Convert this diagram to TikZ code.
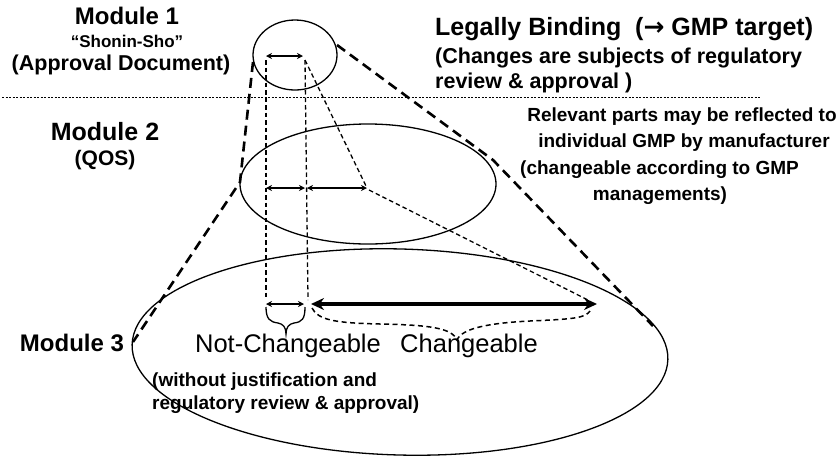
\documentclass[tikz,border=0pt]{standalone}
\usepackage{fontspec}
\setmainfont{Liberation Sans}
\newfontfamily\symfont{DejaVu Sans}
\usetikzlibrary{arrows.meta}
\begin{document}
\begin{tikzpicture}[x=1pt,y=-1pt,
  bt/.style={inner sep=0pt, font=\bfseries\fontsize{#1}{#1}\selectfont},
  rt/.style={inner sep=0pt, font=\fontsize{#1}{#1}\selectfont},
  ell/.style={line width=1.3pt},
  bigdash/.style={line width=2.6pt, dash pattern=on 10pt off 6pt},
  thindash/.style={line width=1.3pt, dash pattern=on 4.5pt off 3pt},
  dotline/.style={line width=1pt, dash pattern=on 2.2pt off 1.3pt},
  dimarrow/.style={line width=1.5pt, {Stealth[length=6pt,width=6pt]}-{Stealth[length=6pt,width=6pt]}},
  bigarrow/.style={line width=4pt, {Stealth[length=13pt,width=12pt]}-{Stealth[length=13pt,width=12pt]}},
  bracepath/.style={line width=1.3pt},
  dashbrace/.style={line width=1.5pt, dash pattern=on 5pt off 3.5pt}]
\useasboundingbox (0,0) rectangle (840,467);

% ellipses
\coordinate (c1) at (295,55);
\coordinate (c2) at (368,184);
\coordinate (c3) at (400,352);
\draw[ell] (c1) ellipse [x radius=42, y radius=35];
\draw[ell] (c2) ellipse [x radius=128, y radius=60];
\draw[ell, rotate around={-1.6:(c3)}] (c3) ellipse [x radius=268, y radius=103];

% dotted separator
\coordinate (s1) at (2,97);
\coordinate (s2) at (760,97);
\draw[dotline] (s1) -- (s2);

% thick dashed tangent lines
\coordinate (l1) at (253,62);
\coordinate (l2) at (240,182);
\coordinate (l3) at (133,342);
\coordinate (r1) at (337,45);
\coordinate (r2) at (493,160);
\coordinate (r3) at (653,326);
\draw[bigdash] (l1) -- (l2) -- (l3);
\draw[bigdash] (r1) -- (r2) -- (r3);

% arrow end points
\coordinate (a1l) at (266,56);
\coordinate (a1r) at (303,56);
\coordinate (a2l) at (266,188);
\coordinate (a2m) at (305,188);
\coordinate (a2n) at (307,188);
\coordinate (a2r) at (367,188);
\coordinate (a3l) at (266,304);
\coordinate (a3m) at (304,304);
\coordinate (a3n) at (311,304);
\coordinate (a3r) at (597,304);

% thin dashed projection lines
\coordinate (v1t) at (266,60);
\coordinate (v1b) at (266,300);
\coordinate (v2t) at (305,60);
\coordinate (v2b) at (308,300);
\coordinate (d1t) at (305,60);
\coordinate (d1b) at (366,186);
\coordinate (d2t) at (369,190);
\coordinate (d2b) at (590,301);
\draw[thindash] (v1t) -- (v1b);
\draw[thindash] (v2t) -- (v2b);
\draw[thindash] (d1t) -- (d1b);
\draw[thindash] (d2t) -- (d2b);

% arrows
\draw[dimarrow] (a1l) -- (a1r);
\draw[dimarrow] (a2l) -- (a2m);
\draw[dimarrow] (a2n) -- (a2r);
\draw[dimarrow] (a3l) -- (a3m);
\draw[bigarrow] (a3n) -- (a3r);

% solid brace under the small bottom arrow
\coordinate (b1) at (266,307);
\coordinate (b2) at (305,307);
\coordinate (bt) at (286,334);
\draw[bracepath] (b1) .. controls (266,319) and (270,322) .. (278,323)
  .. controls (283,324) and (286,327) .. (bt)
  .. controls (286,327) and (289,324) .. (294,323)
  .. controls (302,322) and (305,319) .. (b2);

% dashed brace under the big arrow
\coordinate (e1) at (312,308);
\coordinate (et) at (457,340);
\coordinate (e2) at (590,311);
\draw[dashbrace] (e1) .. controls (318,320) and (335,323) .. (380,324)
  .. controls (430,325) and (452,328) .. (et)
  .. controls (462,328) and (490,323) .. (530,321)
  .. controls (575,319) and (585,318) .. (e2);

% texts
\node[bt=24] (m1) at (127,16) {Module 1};
\node[bt=17] (shonin) at (127,41) {“Shonin-Sho”};
\node[bt=21.5] (appr) at (121,65) {(Approval Document)};
\node[bt=25, anchor=west] (legal) at (435,29) {Legally Binding\ \ ({\symfont\bfseries →} GMP target)};
\node[bt=21.5, anchor=west] (chg) at (435,58) {(Changes are subjects of regulatory};
\node[bt=21.5, anchor=west] (rev) at (435,83) {review \& approval )};

\node[bt=25] (m2) at (105,132) {Module 2};
\node[bt=21] (qos) at (105,160) {(QOS)};
\node[bt=19] (rel1) at (682,117) {Relevant parts may be reflected to};
\node[bt=19] (rel2) at (684,143) {individual GMP by manufacturer};
\node[bt=19, anchor=west] (rel3) at (520,170) {(changeable according to GMP};
\node[bt=19] (rel4) at (660,196) {managements)};

\node[bt=24] (m3) at (72,343) {Module 3};
\node[rt=25.5] (nc) at (288,346) {Not-Changeable};
\node[rt=25.5] (ch) at (469,346) {Changeable};
\node[bt=19, anchor=west] (wj) at (152,382) {(without justification and};
\node[bt=19, anchor=west] (rr) at (152,405) {regulatory review \& approval)};
\end{tikzpicture}
\end{document}
